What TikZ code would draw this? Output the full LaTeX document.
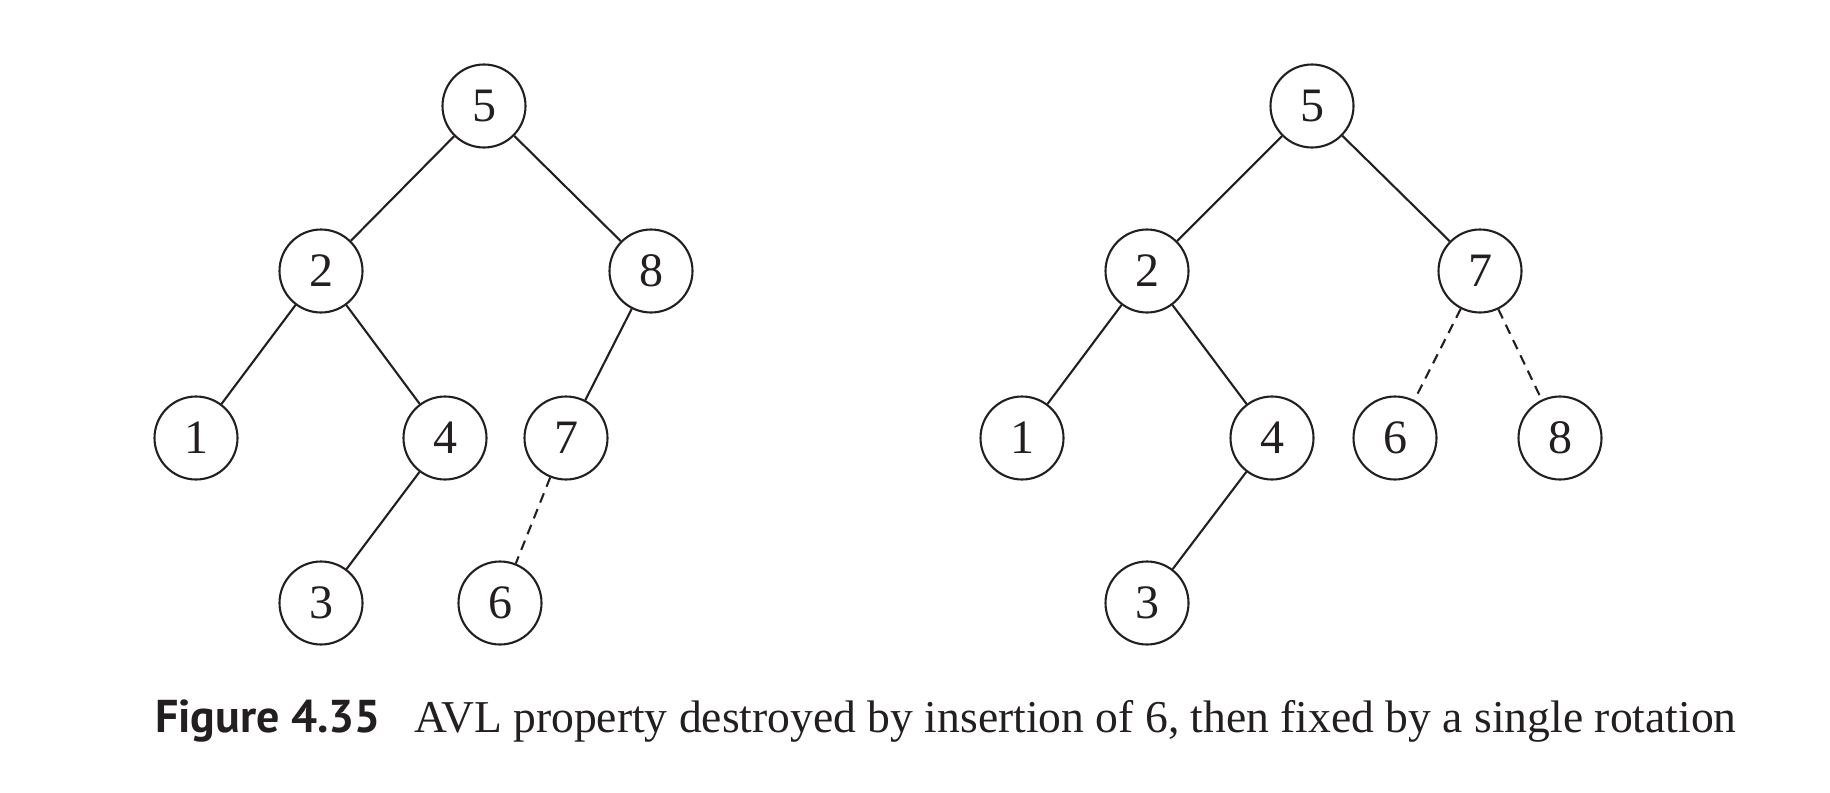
\documentclass[tikz,border=0pt]{standalone}
\usepackage{fontspec}
\setmainfont{Liberation Serif}
\newfontfamily\capsans{PT Sans}
\definecolor{ink}{HTML}{231F20}
\tikzset{vertex/.style={draw=ink,circle,minimum size=83pt,inner sep=0pt,line width=2.1pt,text=ink,font=\fontsize{48}{52}\selectfont},edge/.style={draw=ink,line width=2.1pt},dashedge/.style={edge,dash pattern=on 10pt off 7pt}}

\begin{document}
\begin{tikzpicture}[x=1pt,y=-1pt]
\useasboundingbox (0,0) rectangle (1830,792);
% before the rotation
\node[vertex] (a5) at (484,106) {5};
\node[vertex] (a2) at (321,271) {2};
\node[vertex] (a8) at (651,271) {8};
\node[vertex] (a1) at (196,438) {1};
\node[vertex] (a4) at (445,438) {4};
\node[vertex] (a7) at (566,438) {7};
\node[vertex] (a3) at (321,603) {3};
\node[vertex] (a6) at (500,603) {6};
% after the rotation
\node[vertex] (b5) at (1312,106) {5};
\node[vertex] (b2) at (1147,271) {2};
\node[vertex] (b7) at (1480,271) {7};
\node[vertex] (b1) at (1022,438) {1};
\node[vertex] (b4) at (1272,438) {4};
\node[vertex] (b6) at (1395,438) {6};
\node[vertex] (b8) at (1560,438) {8};
\node[vertex] (b3) at (1147,603) {3};
\foreach \p/\c in {a5/a2,a5/a8,a2/a1,a2/a4,a4/a3,a8/a7,b5/b2,b5/b7,b2/b1,b2/b4,b4/b3}\draw[edge] (\p)--(\c);
\foreach \p/\c in {a7/a6,b7/b6,b7/b8}\draw[dashedge] (\p)--(\c);
\node[anchor=base west,inner sep=0pt,text=ink,font=\fontsize{45.6}{50}\selectfont] (cap) at (155,732) {{\capsans\bfseries\fontsize{46}{50}\selectfont Figure 4.35}\hspace{33pt}AVL property destroyed by insertion of 6, then fixed by a single rotation};
\end{tikzpicture}
\end{document}
